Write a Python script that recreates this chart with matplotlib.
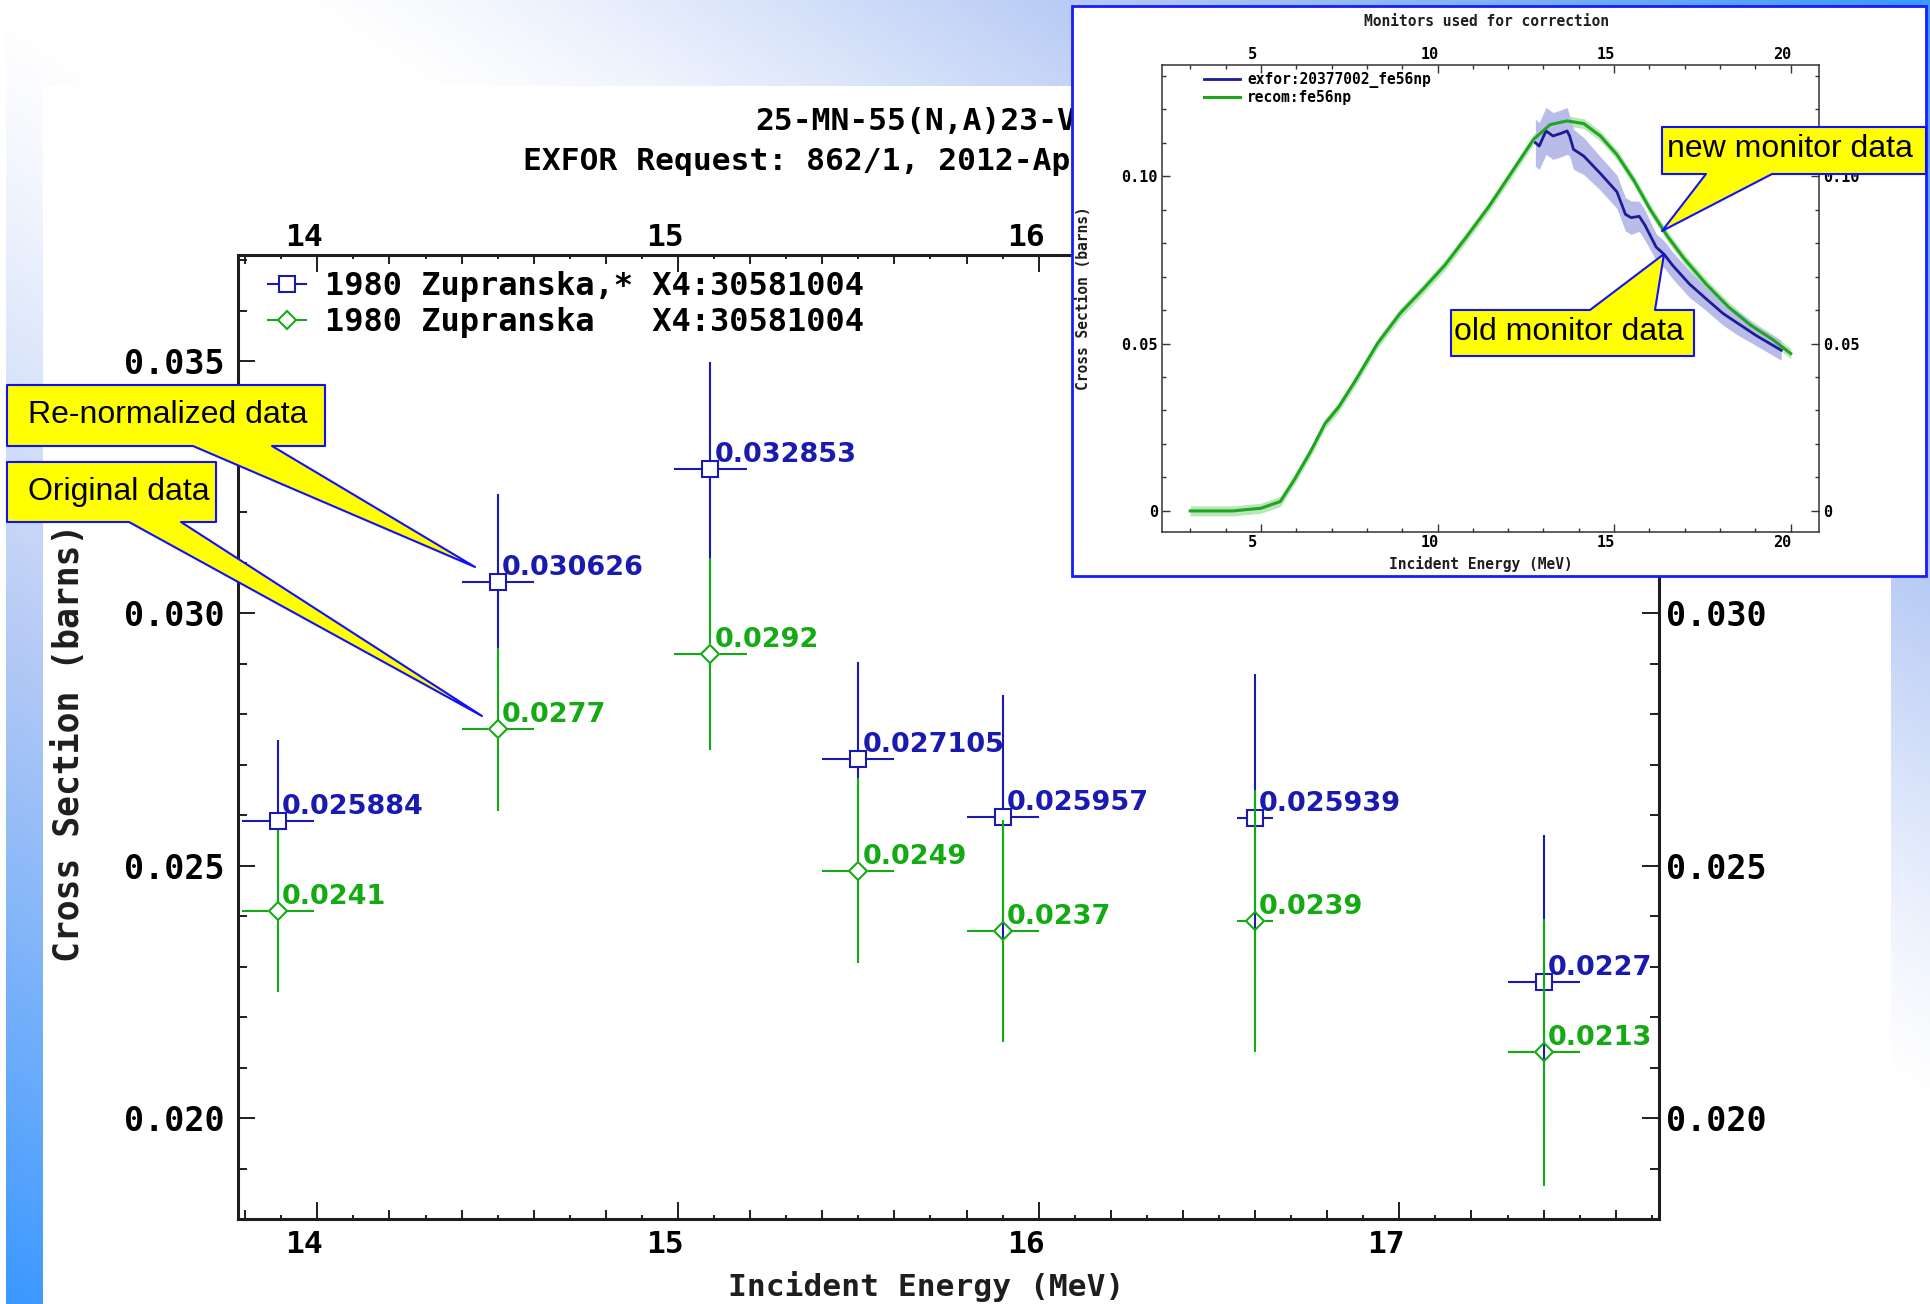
import numpy as np
import matplotlib
matplotlib.use('Agg')
import matplotlib.pyplot as plt
from matplotlib.colors import LinearSegmentedColormap
from matplotlib.lines import Line2D
from matplotlib.patches import Polygon, Rectangle
from matplotlib.ticker import MultipleLocator, FuncFormatter, FormatStrFormatter
from matplotlib.transforms import ScaledTranslation

W, H = 1930, 1304
DPI = 100

# main chart: 25-MN-55(N,A)23-V, 1980 Zupranska
energy = [13.89, 14.5, 15.09, 15.5, 15.9, 16.6, 17.4]
energy_err = [0.1, 0.1, 0.1, 0.1, 0.1, 0.05, 0.1]
renorm = [0.025884, 0.030626, 0.032853, 0.027105, 0.025957, 0.025939, 0.0227]
renorm_err = [0.0016, 0.00174, 0.00213, 0.00193, 0.00242, 0.00285, 0.0029]
orig = [0.0241, 0.0277, 0.0292, 0.0249, 0.0237, 0.0239, 0.0213]
orig_err = [0.0016, 0.00161, 0.0019, 0.00183, 0.0022, 0.0026, 0.00265]
legend_labels = ['1980 Zupranska,* X4:30581004', '1980 Zupranska   X4:30581004']

# inset: monitors used for correction
recom_e = [3.0, 4.2, 5.0, 5.55, 5.95, 6.42, 6.81, 7.2, 7.68, 8.3, 8.94, 9.57, 10.2, 10.83,
           11.46, 12.09, 12.72, 13.19, 13.67, 14.14, 14.61, 15.08, 15.56, 16.03, 16.5,
           16.97, 17.6, 18.23, 18.86, 19.5, 20.0]
recom_xs = [0.0, 0.0, 0.0008, 0.0028, 0.0094, 0.018, 0.026, 0.031, 0.039, 0.050, 0.059,
            0.066, 0.0733, 0.082, 0.091, 0.101, 0.111, 0.1154, 0.1165, 0.1157, 0.112,
            0.1064, 0.0987, 0.0899, 0.0822, 0.0755, 0.0678, 0.061, 0.0555, 0.0511, 0.047]
recom_unc = 0.0015
exfor_e = [12.77, 12.88, 13.07, 13.27, 13.5, 13.67, 13.74, 13.85, 14.14, 14.61, 15.08, 15.32,
           15.48, 15.71, 15.87, 16.19, 16.42, 16.66, 17.13, 17.6, 18.08, 18.55, 19.02, 19.73]
exfor_xs = [0.110, 0.109, 0.1135, 0.112, 0.1128, 0.1135, 0.112, 0.108, 0.106, 0.1008, 0.0953,
            0.0886, 0.0876, 0.088, 0.0854, 0.0788, 0.0766, 0.0733, 0.0678, 0.0634, 0.059,
            0.0557, 0.0524, 0.048]
exfor_unc = [0.007, 0.007, 0.007, 0.007, 0.007, 0.007, 0.006, 0.006, 0.0055, 0.005, 0.005,
             0.005, 0.005, 0.0045, 0.0045, 0.004, 0.004, 0.004, 0.004, 0.0035, 0.0035,
             0.0035, 0.003, 0.003]

BLUE = '#1a1ab0'
GREEN = '#14aa14'
INK = '#1e1e1e'

plt.rcParams['font.family'] = ['DejaVu Sans Mono', 'DejaVu Sans']
plt.rcParams['font.weight'] = 'bold'

fig = plt.figure(figsize=(W / DPI, H / DPI), dpi=DPI)


def pixel_axes(z):
    a = fig.add_axes([0, 0, 1, 1], zorder=z)
    a.set_xlim(0, W)
    a.set_ylim(H, 0)
    a.axis('off')
    a.patch.set_visible(False)
    return a


# slide background: blue at lower left and upper right, white along the diagonal
bg = pixel_axes(-10)
gy, gx = np.mgrid[0:1:200j, 0:1:300j]
lower = np.clip(gy - gx, 0, 1)
upper = np.clip((gx - gy - 0.15) / 0.85, 0, 1)
shade = np.maximum(lower, upper) ** 1.25
slide_cmap = LinearSegmentedColormap.from_list(
    'slide', [(0, '#ffffff'), (0.4, '#b6caf5'), (1, '#3a98ff')])
bg.imshow(shade, cmap=slide_cmap, vmin=0, vmax=1, extent=(0, W, H, 0),
          aspect='auto', interpolation='bilinear')
bg.add_patch(Rectangle((0, 0), 6, H, fc='white', lw=0))
bg.add_patch(Rectangle((43, 86), 1848, H - 86, fc='white', lw=0))

# main axes
ax = fig.add_axes([238 / W, 1 - 1219 / H, 1421 / W, 964 / H], zorder=1)
ax.set_xlim(13.78, 17.72)
ax.set_ylim(0.0180, 0.0371)
for s in ax.spines.values():
    s.set_linewidth(2.2)
    s.set_color(INK)
ax.xaxis.set_major_locator(MultipleLocator(1))
ax.xaxis.set_minor_locator(MultipleLocator(0.2))
ax.yaxis.set_major_locator(MultipleLocator(0.005))
ax.yaxis.set_minor_locator(MultipleLocator(0.001))
ax.yaxis.set_major_formatter(FormatStrFormatter('%.3f'))
ax.tick_params(which='both', direction='in', top=True, right=True, width=1.4, color=INK)
ax.tick_params(which='major', length=12.2)
ax.tick_params(which='minor', length=6.5)
ax.tick_params(axis='x', labeltop=True, labelsize=22.5, pad=2.3)
ax.tick_params(axis='y', labelright=True, labelsize=24, pad=5.0)

tenth = np.round(np.arange(13.9, 17.75, 0.2), 1)
for loc in ('bottom', 'top'):
    sec = ax.secondary_xaxis(loc)
    sec.set_xticks(tenth)
    sec.tick_params(direction='in', length=3, width=1.4, color=INK,
                    labelbottom=False, labeltop=False)
    for s in sec.spines.values():
        s.set_visible(False)


def draw_series(x, y, xerr, yerr, color, marker, ms, gap_px, z):
    x, y = np.asarray(x), np.asarray(y)
    xerr, yerr = np.asarray(xerr), np.asarray(yerr)
    o = ax.transData.transform((0, 0))
    sx = ax.transData.transform((1, 0))[0] - o[0]
    sy = ax.transData.transform((0, 1))[1] - o[1]
    gxd, gyd = gap_px / sx, gap_px / sy
    kw = dict(colors=color, lw=1.5, zorder=z)
    ax.vlines(x, y - yerr, y - gyd, **kw)
    ax.vlines(x, y + gyd, y + yerr, **kw)
    ax.hlines(y, x - xerr, x - gxd, **kw)
    ax.hlines(y, x + gxd, x + xerr, **kw)
    ax.plot(x, y, ls='none', marker=marker, ms=ms, mfc='none', mec=color, mew=1.5, zorder=z)
    for xi, yi in zip(x, y):
        ax.annotate(f'{yi:g}', (xi, yi), xytext=(4, 14), textcoords='offset pixels',
                    ha='left', va='center', color=color, fontsize=19.5,
                    family='DejaVu Sans', fontweight='bold', clip_on=True, zorder=z + 2)


draw_series(energy, renorm, energy_err, renorm_err, BLUE, 's', 11, 7.5, 3)
draw_series(energy, orig, energy_err, orig_err, GREEN, 'D', 9.5, 9.5, 4)

handles = [Line2D([], [], color=BLUE, lw=1.5, marker='s', ms=11, mfc='white', mec=BLUE, mew=1.5),
           Line2D([], [], color=GREEN, lw=1.5, marker='D', ms=9.5, mfc='white', mec=GREEN, mew=1.5)]
ax.legend(handles, legend_labels, loc='upper left', bbox_to_anchor=(0.0211, 0.983),
          frameon=False, borderpad=0, borderaxespad=0, handlelength=1.2,
          handletextpad=0.6, labelspacing=0.16,
          prop={'family': 'DejaVu Sans Mono', 'weight': 'bold', 'size': 23})

# shift labels like the original plot software does
for t in ax.xaxis.get_major_ticks():
    t.label1.set_transform(t.label1.get_transform()
                           + ScaledTranslation(-13 / DPI, -8 / DPI, fig.dpi_scale_trans))
    t.label2.set_transform(t.label2.get_transform()
                           + ScaledTranslation(-13 / DPI, 0, fig.dpi_scale_trans))
for t in ax.yaxis.get_major_ticks():
    t.label1.set_transform(t.label1.get_transform()
                           + ScaledTranslation(-6 / DPI, 0, fig.dpi_scale_trans))

# titles, axis labels, call-outs over the main plot
ov = pixel_axes(2)
ov.text(755, 122, '25-MN-55(N,A)23-V-52', ha='left', va='center', fontsize=22.5, color='black')
ov.text(523, 162, 'EXFOR Request: 862/1, 2012-Apr', ha='left', va='center', fontsize=22.5,
        color='black')
ov.text(69, 743, 'Cross Section (barns)', rotation=90, ha='center', va='center',
        fontsize=25, color=INK)
ov.text(926, 1287, 'Incident Energy (MeV)', ha='center', va='center', fontsize=22.5, color=INK)


def callout(a, box, base, tip, side, text, tx, ty, ha):
    x0, y0, x1, y1 = box
    if side == 'bottom':
        pts = [(x0, y0), (x1, y0), (x1, y1), (base[1], y1), tip, (base[0], y1), (x0, y1)]
    else:
        pts = [(x0, y0), (base[0], y0), tip, (base[1], y0), (x1, y0), (x1, y1), (x0, y1)]
    a.add_patch(Polygon(pts, closed=True, fc='#ffff00', ec='#1010ff', lw=1.5,
                        joinstyle='round', zorder=5))
    a.text(tx, ty, text, ha=ha, va='center', fontsize=23, family='Liberation Sans',
           fontweight='normal', color='black', zorder=6)


callout(ov, (7, 385, 325, 446), (193, 272), (475, 567), 'bottom', 'Re-normalized data', 28, 415, 'left')
callout(ov, (7, 462, 216, 522), (129, 181), (482, 716), 'bottom', 'Original data', 28, 492, 'left')

# inset frame
ov_frame = pixel_axes(3)
ov_frame.add_patch(Rectangle((1072, 6), 854, 570, fc='white', ec='#1a1aff', lw=2))

# inset axes
ax_in = fig.add_axes([1162 / W, 1 - 532 / H, 657 / W, 467 / H], zorder=4)
ax_in.fill_between(recom_e, np.array(recom_xs) - recom_unc, np.array(recom_xs) + recom_unc,
                   color='#b8e6b8', lw=0)
ax_in.fill_between(exfor_e, np.array(exfor_xs) - np.array(exfor_unc),
                   np.array(exfor_xs) + np.array(exfor_unc), color='#b9bbe9', lw=0)
ax_in.plot(exfor_e, exfor_xs, color='#1c1c96', lw=2, label='exfor:20377002_fe56np')
ax_in.plot(recom_e, recom_xs, color='#1fa51f', lw=2.2, label='recom:fe56np')
ax_in.set_xlim(2.2, 20.8)
ax_in.set_ylim(-0.0063, 0.1332)
for s in ax_in.spines.values():
    s.set_linewidth(1.1)
    s.set_color('#333333')
ax_in.xaxis.set_major_locator(MultipleLocator(5))
ax_in.xaxis.set_minor_locator(MultipleLocator(1))
ax_in.yaxis.set_major_locator(MultipleLocator(0.05))
ax_in.yaxis.set_minor_locator(MultipleLocator(0.01))
ax_in.yaxis.set_major_formatter(FuncFormatter(lambda v, _: '0' if abs(v) < 1e-9 else f'{v:.2f}'))
ax_in.tick_params(which='both', direction='in', top=True, right=True, width=1, color='#333333',
                  labeltop=True, labelright=True, labelsize=11)
ax_in.tick_params(which='major', length=5.8)
ax_in.tick_params(which='minor', length=2.9)
ax_in.tick_params(axis='x', pad=2)
ax_in.tick_params(axis='y', pad=3)
ax_in.legend(loc='upper left', bbox_to_anchor=(0.064, 0.9857), frameon=False, borderpad=0,
             borderaxespad=0, handlelength=2.47, handletextpad=0.48, labelspacing=0.16,
             prop={'family': 'DejaVu Sans Mono', 'weight': 'bold', 'size': 10.5})
for t in ax_in.xaxis.get_major_ticks():
    for lab in (t.label1, t.label2):
        lab.set_transform(lab.get_transform()
                          + ScaledTranslation(-8 / DPI, 0, fig.dpi_scale_trans))

# inset texts and call-outs
ov_top = pixel_axes(5)
ov_top.text(1487, 21, 'Monitors used for correction', ha='center', va='center', fontsize=10.5,
            color=INK)
ov_top.text(1481, 564, 'Incident Energy (MeV)', ha='center', va='center', fontsize=10.5, color=INK)
ov_top.text(1083, 298, 'Cross Section (barns)', rotation=90, ha='center', va='center',
            fontsize=10.5, color=INK)
callout(ov_top, (1662, 127, 1926, 174), (1706, 1772), (1662, 231), 'bottom',
        'new monitor data', 1790, 149, 'center')
callout(ov_top, (1451, 310, 1694, 356), (1590, 1655), (1664, 254), 'top',
        'old monitor data', 1569, 332, 'center')

fig.savefig('out.png', dpi=DPI)
